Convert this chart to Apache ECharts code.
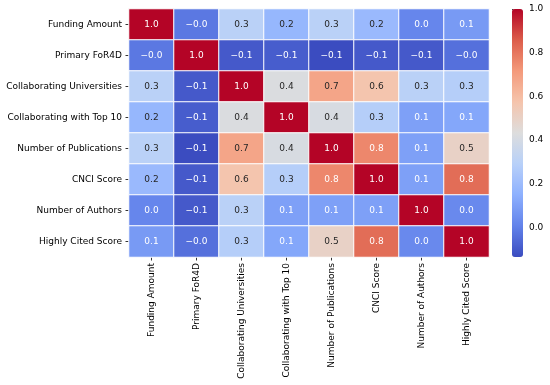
<!DOCTYPE html>
<html><head><meta charset="utf-8">
<script src="https://cdn.jsdelivr.net/npm/echarts@6/dist/echarts.min.js"></script>
<style>html,body{margin:0;padding:0;background:#fff}#c{width:550px;height:385px}</style>
</head><body><div id="c"></div>
<script>
const categories = ['Funding Amount','Primary FoR4D','Collaborating Universities','Collaborating with Top 10','Number of Publications','CNCI Score','Number of Authors','Highly Cited Score'];
const rowFunding      = [1.00, -0.02, 0.30, 0.18, 0.30, 0.19, 0.02, 0.08];
const rowPrimary      = [-0.02, 1.00, -0.10, -0.09, -0.135, -0.10, -0.10, -0.04];
const rowCollabUni    = [0.30, -0.10, 1.00, 0.42, 0.68, 0.57, 0.30, 0.28];
const rowCollabTop10  = [0.18, -0.09, 0.42, 1.00, 0.41, 0.28, 0.10, 0.12];
const rowPublications = [0.30, -0.135, 0.68, 0.41, 1.00, 0.76, 0.10, 0.50];
const rowCNCI         = [0.19, -0.10, 0.57, 0.28, 0.76, 1.00, 0.10, 0.82];
const rowAuthors      = [0.02, -0.10, 0.30, 0.10, 0.10, 0.10, 1.00, 0.03];
const rowHighlyCited  = [0.08, -0.04, 0.28, 0.12, 0.50, 0.82, 0.03, 1.00];
const colorbarTicks = [0.0, 0.2, 0.4, 0.6, 0.8, 1.0];
const colorMin = -0.135, colorMax = 1.0;

const matrix = [rowFunding,rowPrimary,rowCollabUni,rowCollabTop10,rowPublications,rowCNCI,rowAuthors,rowHighlyCited];
const coolwarm = ['#3b4cc0','#6282ea','#8db0fe','#b8d0f9','#dddddd','#f5c4ac','#f49a7b','#dc5d4a','#b40426'];

function hexRgb(h){return [parseInt(h.substr(1,2),16),parseInt(h.substr(3,2),16),parseInt(h.substr(5,2),16)];}
function cmap(v){
  let t=(v-colorMin)/(colorMax-colorMin); t=Math.max(0,Math.min(1,t));
  const p=t*(coolwarm.length-1); const i=Math.min(coolwarm.length-2,Math.floor(p)); const f=p-i;
  const a=hexRgb(coolwarm[i]), b=hexRgb(coolwarm[i+1]);
  return a.map((x,k)=>x+(b[k]-x)*f);
}
function lum(rgb){
  const l=rgb.map(c=>{c/=255;return c<=0.03928?c/12.92:Math.pow((c+0.055)/1.055,2.4);});
  return 0.2126*l[0]+0.7152*l[1]+0.0722*l[2];
}
function fmt(v){return v.toFixed(1).replace('-','\u2212');}

const data=[];
matrix.forEach((row,r)=>row.forEach((v,c)=>{
  const dark = lum(cmap(v))>0.408;
  data.push({value:[c,r,v],label:{color:dark?'#262626':'#ffffff'}});
}));

const chart=echarts.init(document.getElementById('c'),null,{renderer:'canvas'});
const font='DejaVu Sans';
chart.setOption({
  animation:false,
  textStyle:{fontFamily:font},
  grid:[
    {left:129,top:9,width:360,height:248},
    {left:512,top:9,width:11,height:248}
  ],
  xAxis:[
    {type:'category',data:categories,gridIndex:0,position:'bottom',
     axisLine:{show:false},splitLine:{show:false},
     axisTick:{show:true,alignWithLabel:true,interval:0,length:3.5,lineStyle:{color:'#000',width:0.8}},
     axisLabel:{rotate:90,interval:0,fontSize:9,color:'#000',margin:6,fontFamily:font}},
    {type:'value',gridIndex:1,show:false,min:0,max:1}
  ],
  yAxis:[
    {type:'category',data:categories,gridIndex:0,inverse:true,
     axisLine:{show:false},splitLine:{show:false},
     axisTick:{show:true,alignWithLabel:true,interval:0,length:3.5,lineStyle:{color:'#000',width:0.8}},
     axisLabel:{interval:0,fontSize:9,color:'#000',margin:7,fontFamily:font}},
    {type:'value',gridIndex:1,min:colorMin,max:colorMax,position:'right',
     axisLine:{show:false},splitLine:{show:false},
     axisTick:{show:true,length:3.5,customValues:colorbarTicks,lineStyle:{color:'#000',width:0.8}},
     axisLabel:{customValues:colorbarTicks,formatter:v=>fmt(v),fontSize:9,color:'#000',margin:6,fontFamily:font}}
  ],
  visualMap:{type:'continuous',seriesIndex:0,min:colorMin,max:colorMax,
    inRange:{color:coolwarm},left:512,top:9,itemWidth:11,itemHeight:248,padding:0,
    calculable:false,hoverLink:false,text:null,showLabel:false},
  series:[
    {type:'heatmap',xAxisIndex:0,yAxisIndex:0,data:data,
     itemStyle:{borderColor:'#ffffff',borderWidth:1},
     label:{show:true,fontSize:9,fontFamily:font,formatter:p=>fmt(p.value[2])},
     emphasis:{disabled:true}},
    {type:'line',xAxisIndex:1,yAxisIndex:1,data:[],silent:true}
  ]
});
</script></body></html>
